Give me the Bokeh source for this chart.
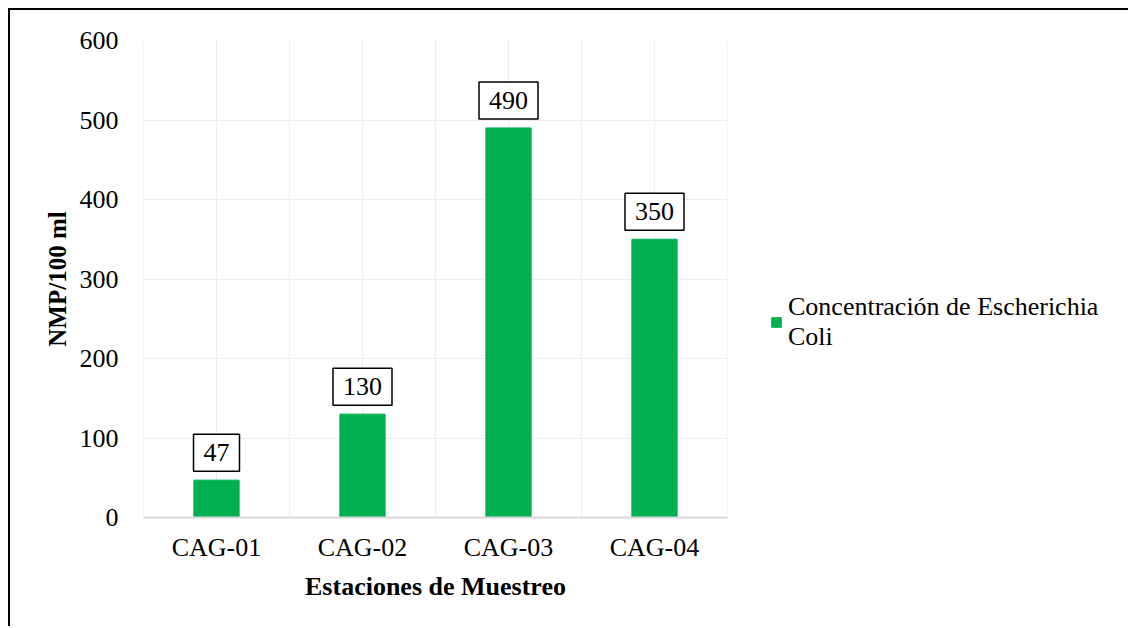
from bokeh.plotting import figure
from bokeh.models import Legend, LegendItem, Label, FixedTicker, Range1d, Span
from bokeh.embed import file_html
from bokeh.resources import INLINE

stations = ["CAG-01", "CAG-02", "CAG-03", "CAG-04"]
ecoli = [47, 130, 490, 350]
y_ticks = [0, 100, 200, 300, 400, 500, 600]
series_name = "Concentración de Escherichia\nColi"

FONT = "Liberation Serif"
GREEN = "#00b050"

p = figure(x_range=stations, y_range=Range1d(0, 600), width=1118, height=618,
           output_backend="svg", toolbar_location=None,
           frame_width=584, frame_height=477,
           min_border_left=133, min_border_top=30, min_border_right=401, min_border_bottom=109)
p.styles = {"border-top": "2px solid black", "border-left": "2px solid black",
            "margin-left": "8px", "margin-top": "8px"}

r = p.vbar(x=stations, top=ecoli, width=0.31, color=GREEN)

p.outline_line_color = None
p.background_fill_color = "white"
p.border_fill_color = "white"

# grids
p.ygrid.grid_line_color = "#eeeeee"
p.ygrid.grid_line_width = 1
p.xgrid.grid_line_color = None
p.yaxis.ticker = FixedTicker(ticks=y_ticks)

# vertical gridlines at category centres and boundaries
for i in range(len(stations) * 2 + 1):
    p.add_layout(Span(location=i * 0.5, dimension="height", line_color="#eeeeee",
                      line_width=1, level="underlay"))

# axes
p.yaxis.axis_line_color = None
p.yaxis.major_tick_line_color = None
p.yaxis.minor_tick_line_color = None
p.yaxis.major_label_text_font = FONT
p.yaxis.major_label_text_font_size = "26px"
p.yaxis.major_label_text_color = "black"
p.yaxis.major_label_standoff = 19
p.yaxis.axis_label = "NMP/100 ml"
p.yaxis.axis_label_text_font = FONT
p.yaxis.axis_label_text_font_size = "25px"
p.yaxis.axis_label_text_font_style = "bold"
p.yaxis.axis_label_text_color = "black"
p.yaxis.axis_label_standoff = 6

p.xaxis.axis_line_color = "#d9d9d9"
p.xaxis.axis_line_width = 2
p.xaxis.major_tick_line_color = None
p.xaxis.minor_tick_line_color = None
p.xaxis.major_label_text_font = FONT
p.xaxis.major_label_text_font_size = "26px"
p.xaxis.major_label_text_color = "black"
p.xaxis.major_label_standoff = 9
p.xaxis.axis_label = "Estaciones de Muestreo"
p.xaxis.axis_label_text_font = FONT
p.xaxis.axis_label_text_font_size = "26px"
p.xaxis.axis_label_text_font_style = "bold"
p.xaxis.axis_label_text_color = "black"
p.xaxis.axis_label_standoff = 7

# data labels (categorical position i + 0.5 is the centre of factor i)
for i, v in enumerate(ecoli):
    p.add_layout(Label(x=i + 0.5, y=v, text=str(v), y_offset=9, text_align="center", text_baseline="bottom",
                       text_font=FONT, text_font_size="26px", text_color="black",
                       border_line_color="black", border_line_width=1.5,
                       background_fill_color="white", padding=(10, 10)))

legend = Legend(items=[LegendItem(label=series_name, renderers=[r])],
                location=(43, 165), orientation="vertical",
                label_text_font=FONT, label_text_font_size="26px", label_text_color="black",
                glyph_width=12, glyph_height=12, label_standoff=6,
                border_line_color=None, background_fill_alpha=0, padding=0, margin=0)
p.add_layout(legend, "right")

open("out.html", "w").write(file_html(p, INLINE))
